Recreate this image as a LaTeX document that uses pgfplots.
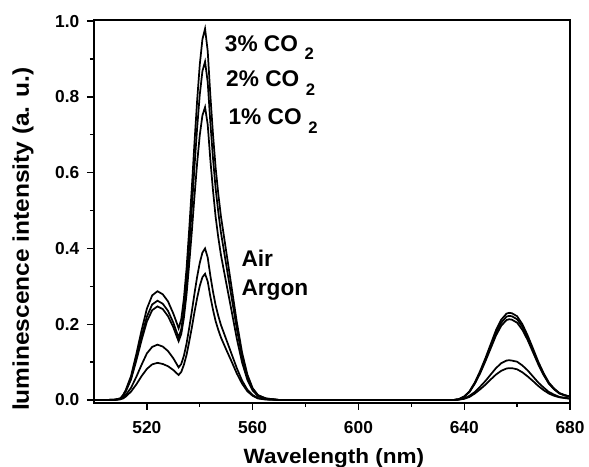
\documentclass[border=0pt]{standalone}
\usepackage{fontspec}
\setmainfont{Liberation Sans}
\usepackage{pgfplots}
\pgfplotsset{compat=1.18}
\newcommand{\sub}{\hspace{5pt}\raisebox{-6.3pt}{\fontsize{12.5}{14}\selectfont 2}}
\begin{document}
\begin{tikzpicture}
\begin{axis}[
 scale only axis, width=357pt, height=287.25pt,
 xmin=500, xmax=680, ymin=-0.008, ymax=1.003,
 xtick={520,560,600,640,680}, minor xtick={540,580,620,660},
 ytick={0,0.2,0.4,0.6,0.8,1.0}, minor ytick={0.1,0.3,0.5,0.7,0.9},
 tick align=outside, tick pos=left,
 major tick length=5.25pt, minor tick length=3pt,
 every tick/.style={line width=1pt, black},
 axis line style={line width=1.1pt},
 ticklabel style={font=\fontsize{13}{15}\selectfont\bfseries},
 /pgf/number format/assume math mode=true,
 yticklabel style={xshift=-2.3pt, /pgf/number format/.cd, fixed, fixed zerofill, precision=1},
 xticklabel style={yshift=-5pt, /pgf/number format/.cd, fixed, 1000 sep={}},
 xlabel={\scalebox{1.09}[1]{Wavelength (nm)}}, ylabel={\scalebox{1.08}[1]{luminescence intensity (a. u.)}},
 xlabel style={font=\fontsize{15.5}{18}\selectfont\bfseries, at={(axis description cs:0.504,-0.1574)}, anchor=base},
 ylabel style={font=\fontsize{17}{20}\selectfont\bfseries, at={(axis description cs:-0.149,0.428)}, anchor=center},
 every axis plot post/.append style={black, line width=1.3pt, mark=none},
]
% 3% CO2
\addplot coordinates {(500,0)(505,0)(508,0.001)(510,0.004)(511,0.013)(512,0.026)(514,0.063)(516,0.121)(518,0.184)(520,0.241)(522,0.276)(524,0.287)(526,0.279)(528,0.260)(530,0.228)(531,0.209)(532,0.189)(533,0.213)(534,0.268)(535,0.347)(536,0.450)(537,0.561)(538,0.679)(539,0.790)(540,0.885)(541,0.952)(542,0.980)(543,0.921)(544,0.804)(545,0.701)(546,0.613)(547,0.544)(548,0.485)(550,0.392)(552,0.299)(554,0.206)(556,0.125)(558,0.067)(560,0.031)(562,0.013)(565,0.004)(570,0)(600,0)(636,0)(638,0.002)(640,0.009)(642,0.023)(644,0.046)(646,0.076)(648,0.110)(650,0.147)(652,0.184)(654,0.212)(656,0.228)(657,0.230)(658,0.229)(660,0.221)(662,0.200)(664,0.170)(666,0.136)(668,0.101)(670,0.071)(672,0.046)(674,0.030)(676,0.018)(678,0.013)(680,0.009)};
% 2% CO2
\addplot coordinates {(500,0)(505,0)(508,0.001)(510,0.004)(511,0.012)(512,0.024)(514,0.058)(516,0.110)(518,0.168)(520,0.220)(522,0.252)(524,0.262)(526,0.254)(528,0.235)(530,0.204)(531,0.184)(532,0.165)(533,0.187)(534,0.238)(535,0.311)(536,0.405)(537,0.507)(538,0.616)(539,0.718)(540,0.806)(541,0.868)(542,0.893)(543,0.839)(544,0.732)(545,0.638)(546,0.558)(547,0.496)(548,0.442)(550,0.357)(552,0.272)(554,0.188)(556,0.114)(558,0.061)(560,0.029)(562,0.012)(565,0.004)(570,0)(600,0)(636,0)(638,0.002)(640,0.009)(642,0.022)(644,0.044)(646,0.073)(648,0.107)(650,0.142)(652,0.178)(654,0.204)(656,0.220)(657,0.222)(658,0.221)(660,0.213)(662,0.193)(664,0.164)(666,0.131)(668,0.098)(670,0.069)(672,0.044)(674,0.029)(676,0.018)(678,0.012)(680,0.009)};
% 1% CO2
\addplot coordinates {(500,0)(505,0)(508,0.001)(510,0.004)(511,0.011)(512,0.022)(514,0.054)(516,0.104)(518,0.158)(520,0.207)(522,0.237)(524,0.247)(526,0.240)(528,0.221)(530,0.192)(531,0.173)(532,0.155)(533,0.174)(534,0.217)(535,0.279)(536,0.359)(537,0.445)(538,0.538)(539,0.625)(540,0.699)(541,0.751)(542,0.773)(543,0.727)(544,0.634)(545,0.553)(546,0.483)(547,0.429)(548,0.383)(550,0.309)(552,0.236)(554,0.162)(556,0.099)(558,0.053)(560,0.025)(562,0.010)(565,0.003)(570,0)(600,0)(636,0)(638,0.002)(640,0.009)(642,0.021)(644,0.043)(646,0.070)(648,0.102)(650,0.136)(652,0.170)(654,0.196)(656,0.211)(657,0.213)(658,0.212)(660,0.204)(662,0.185)(664,0.158)(666,0.126)(668,0.094)(670,0.066)(672,0.043)(674,0.028)(676,0.017)(678,0.012)(680,0.009)};
% Air
\addplot coordinates {(500,0)(505,0)(508,0.000)(510,0.002)(511,0.007)(512,0.013)(514,0.032)(516,0.061)(518,0.093)(520,0.123)(522,0.140)(524,0.146)(526,0.141)(528,0.129)(530,0.110)(531,0.098)(532,0.086)(533,0.095)(534,0.117)(535,0.149)(536,0.190)(537,0.234)(538,0.281)(539,0.325)(540,0.362)(541,0.389)(542,0.400)(543,0.376)(544,0.328)(545,0.286)(546,0.250)(547,0.222)(548,0.198)(550,0.160)(552,0.122)(554,0.084)(556,0.051)(558,0.027)(560,0.013)(562,0.005)(565,0.002)(570,0)(600,0)(636,0)(638,0.001)(640,0.004)(642,0.011)(644,0.021)(646,0.035)(648,0.050)(650,0.067)(652,0.084)(654,0.097)(656,0.104)(657,0.105)(658,0.104)(660,0.101)(662,0.091)(664,0.078)(666,0.062)(668,0.046)(670,0.033)(672,0.021)(674,0.014)(676,0.008)(678,0.006)(680,0.004)};
% Argon
\addplot coordinates {(500,0)(505,0)(508,0.000)(510,0.002)(511,0.004)(512,0.009)(514,0.022)(516,0.041)(518,0.063)(520,0.082)(522,0.094)(524,0.098)(526,0.095)(528,0.089)(530,0.079)(531,0.072)(532,0.066)(533,0.074)(534,0.093)(535,0.119)(536,0.154)(537,0.191)(538,0.232)(539,0.269)(540,0.301)(541,0.324)(542,0.333)(543,0.313)(544,0.273)(545,0.238)(546,0.208)(547,0.185)(548,0.165)(550,0.133)(552,0.102)(554,0.070)(556,0.043)(558,0.023)(560,0.011)(562,0.004)(565,0.001)(570,0)(600,0)(636,0)(638,0.001)(640,0.003)(642,0.008)(644,0.017)(646,0.028)(648,0.040)(650,0.054)(652,0.067)(654,0.077)(656,0.083)(657,0.084)(658,0.084)(660,0.081)(662,0.073)(664,0.062)(666,0.050)(668,0.037)(670,0.026)(672,0.017)(674,0.011)(676,0.007)(678,0.005)(680,0.003)};
\node[anchor=base west, inner sep=0pt, font=\fontsize{17}{20}\selectfont\bfseries] at (axis cs:549.4,0.920) {3\% CO\sub};
\node[anchor=base west, inner sep=0pt, font=\fontsize{17}{20}\selectfont\bfseries] at (axis cs:549.9,0.827) {2\% CO\sub};
\node[anchor=base west, inner sep=0pt, font=\fontsize{17}{20}\selectfont\bfseries] at (axis cs:550.8,0.726) {1\% CO\sub};
\node[anchor=base west, inner sep=0pt, font=\fontsize{17}{20}\selectfont\bfseries] at (axis cs:555.7,0.351) {Air};
\node[anchor=base west, inner sep=0pt, font=\fontsize{17}{20}\selectfont\bfseries] at (axis cs:555.7,0.275) {Argon};
\end{axis}
\pgfresetboundingbox
\path ([xshift=-70.5pt,yshift=-48pt]current axis.south west) rectangle ([xshift=14.25pt,yshift=15pt]current axis.north east);
\end{tikzpicture}
\end{document}
